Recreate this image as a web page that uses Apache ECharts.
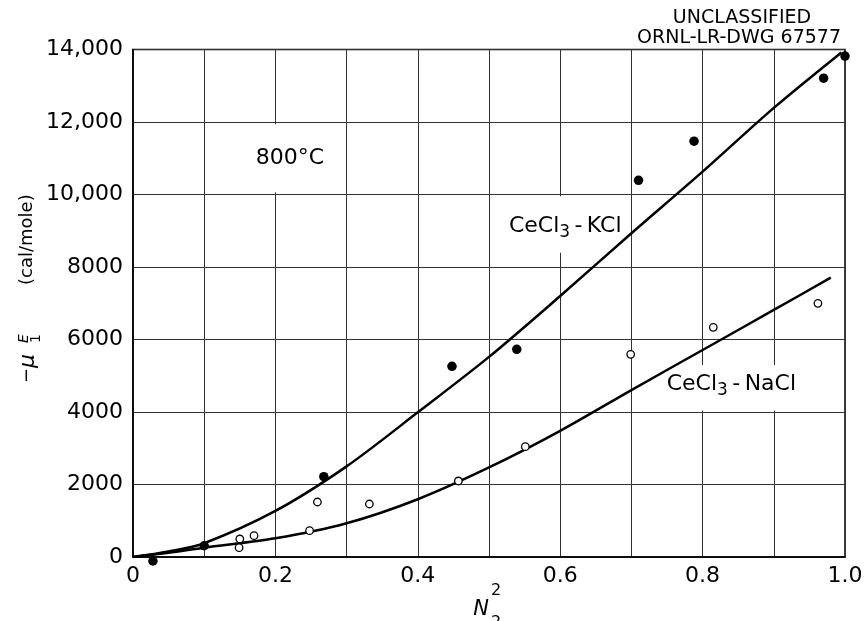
<!DOCTYPE html>
<html>
<head>
<meta charset="utf-8">
<script src="https://cdn.jsdelivr.net/npm/echarts@6/dist/echarts.min.js"></script>
<style>
html,body{margin:0;padding:0;background:#fff;}
#c{width:866px;height:621px;}
</style>
</head>
<body>
<div id="c"></div>
<script>
// ---- data ----
const xTickLabels = ['0', '', '0.2', '', '0.4', '', '0.6', '', '0.8', '', '1.0'];
const yTickLabels = ['0', '2000', '4000', '6000', '8000', '10,000', '12,000', '14,000'];

// CeCl3-KCl measured points (filled circles)
const kclPtsX = [0.028, 0.100, 0.268, 0.448, 0.539, 0.710, 0.788, 0.970, 1.000];
const kclPtsY = [-110, 310, 2215, 5260, 5730, 10390, 11470, 13210, 13820];

// CeCl3-NaCl measured points (open circles)
const naclPtsX = [0.149, 0.150, 0.170, 0.248, 0.259, 0.332, 0.457, 0.551, 0.699, 0.815, 0.962];
const naclPtsY = [257, 497, 588, 726, 1517, 1462, 2097, 3043, 5592, 6337, 6999];

// smooth curves
const kclCurveX = [0, 0.05, 0.1, 0.2, 0.3, 0.4, 0.5, 0.6, 0.7, 0.8, 0.9, 0.995];
const kclCurveY = [0, 150, 380, 1270, 2500, 3990, 5520, 7200, 8930, 10630, 12390, 13920];

const naclCurveX = [0, 0.05, 0.1, 0.2, 0.3, 0.4, 0.5, 0.6, 0.7, 0.8, 0.9, 0.98];
const naclCurveY = [0, 115, 257, 515, 930, 1594, 2470, 3481, 4605, 5710, 6815, 7707];

const zip = (a, b) => a.map((v, i) => [v, b[i]]);
const FONT = 'DejaVu Sans';

const chart = echarts.init(document.getElementById('c'));
chart.setOption({
  animation: false,
  backgroundColor: '#fff',
  grid: { left: 133, right: 21, top: 49.5, bottom: 64, show: true, borderColor: '#000', borderWidth: 1.5, backgroundColor: 'transparent' },
  xAxis: {
    type: 'value', min: 0, max: 1, interval: 0.1,
    axisLine: { show: true, lineStyle: { color: '#000', width: 1.5 } },
    axisTick: { show: false },
    splitLine: { show: true, lineStyle: { color: '#333', width: 1 } },
    axisLabel: {
      fontSize: 22, fontFamily: FONT, color: '#000', margin: 8,
      formatter: v => xTickLabels[Math.round(v * 10)] || ''
    }
  },
  yAxis: {
    type: 'value', min: 0, max: 14000, interval: 2000,
    axisLine: { show: true, lineStyle: { color: '#000', width: 1.5 } },
    axisTick: { show: false },
    splitLine: { show: true, lineStyle: { color: '#333', width: 1 } },
    axisLabel: {
      fontSize: 22, fontFamily: FONT, color: '#000', margin: 10,
      formatter: v => yTickLabels[Math.round(v / 2000)]
    }
  },
  series: [
    { type: 'line', data: zip(kclCurveX, kclCurveY), smooth: 0.3, showSymbol: false, z: 3,
      lineStyle: { color: '#000', width: 2.5 } },
    { type: 'line', data: zip(naclCurveX, naclCurveY), smooth: 0.3, showSymbol: false, z: 3,
      lineStyle: { color: '#000', width: 2.5 } },
    { type: 'scatter', data: zip(kclPtsX, kclPtsY), symbol: 'circle', symbolSize: 9.5, clip: false, z: 4,
      itemStyle: { color: '#000', opacity: 1 } },
    { type: 'scatter', data: zip(naclPtsX, naclPtsY), symbol: 'circle', symbolSize: 7.5, clip: false, z: 4,
      itemStyle: { color: '#fff', borderColor: '#000', borderWidth: 1.3, opacity: 1 } }
  ]
});

// ---- annotations placed through the chart's own coordinate conversion ----
const P = (x, y) => chart.convertToPixel({ gridIndex: 0 }, [x, y]);
function whiteRect(x0, y0, x1, y1) {
  const a = P(x0, y0), b = P(x1, y1);
  return { type: 'rect', z: 1, silent: true,
    shape: { x: Math.min(a[0], b[0]), y: Math.min(a[1], b[1]), width: Math.abs(b[0] - a[0]), height: Math.abs(b[1] - a[1]) },
    style: { fill: '#fff' } };
}
const richLbl = {
  a: { fontSize: 22, fontFamily: FONT, fill: '#000', lineHeight: 26, verticalAlign: 'top' },
  b: { fontSize: 17, fontFamily: FONT, fill: '#000', lineHeight: 20, verticalAlign: 'bottom', padding: [13, 0, 0, 0] }
};
const t800 = P(0.2205, 11007);
const tK = P(0.528, 9063);
const tN = P(0.7496, 4717);

chart.setOption({
  graphic: [
    whiteRect(0.15, 10060, 0.29, 11940),
    whiteRect(0.53, 8390, 0.685, 9950),
    whiteRect(0.75, 4040, 0.93, 5300),
    { type: 'text', z: 10, x: t800[0], y: t800[1],
      style: { text: '800°C', font: '22px ' + FONT, fill: '#000', textAlign: 'center', textVerticalAlign: 'middle' } },
    { type: 'text', z: 10, x: tK[0], y: tK[1],
      style: { text: '{a|CeCl}{b|3}{a|\u2009-\u2009KCl}', rich: richLbl, textAlign: 'left', textVerticalAlign: 'middle' } },
    { type: 'text', z: 10, x: tN[0], y: tN[1],
      style: { text: '{a|CeCl}{b|3}{a|\u2009-\u2009NaCl}', rich: richLbl, textAlign: 'left', textVerticalAlign: 'middle' } },
    // header
    { type: 'text', x: 742, y: 18,
      style: { text: 'UNCLASSIFIED', font: '19px ' + FONT, fill: '#000', textAlign: 'center', textVerticalAlign: 'middle' } },
    { type: 'text', x: 739, y: 38,
      style: { text: 'ORNL-LR-DWG 67577', font: '19px ' + FONT, fill: '#000', textAlign: 'center', textVerticalAlign: 'middle' } },
    // x axis title N2^2
    { type: 'text', x: 481, y: 610,
      style: { text: 'N', font: 'italic 21px ' + FONT, fill: '#000', textAlign: 'center', textVerticalAlign: 'middle' } },
    { type: 'text', x: 496, y: 591,
      style: { text: '2', font: '16px ' + FONT, fill: '#000', textAlign: 'center', textVerticalAlign: 'middle' } },
    { type: 'text', x: 496, y: 623,
      style: { text: '2', font: '16px ' + FONT, fill: '#000', textAlign: 'center', textVerticalAlign: 'middle' } },
    // y axis title
    { type: 'group', x: 27, y: 383, rotation: Math.PI / 2, children: [
      { type: 'text', x: 0, y: 0, style: { text: '−', font: '18px ' + FONT, fill: '#000', textAlign: 'left', textVerticalAlign: 'middle' } },
      { type: 'text', x: 15, y: 1, style: { text: 'μ', font: 'italic 22px ' + FONT, fill: '#000', textAlign: 'left', textVerticalAlign: 'middle' } },
      { type: 'text', x: 40, y: -3, style: { text: 'E', font: 'italic 14px ' + FONT, fill: '#000', textAlign: 'left', textVerticalAlign: 'middle' } },
      { type: 'text', x: 40, y: 9, style: { text: '1', font: '14px ' + FONT, fill: '#000', textAlign: 'left', textVerticalAlign: 'middle' } },
      { type: 'text', x: 98, y: 0, style: { text: '(cal/mole)', font: '18px ' + FONT, fill: '#000', textAlign: 'left', textVerticalAlign: 'middle' } }
    ] }
  ]
});
</script>
</body>
</html>
